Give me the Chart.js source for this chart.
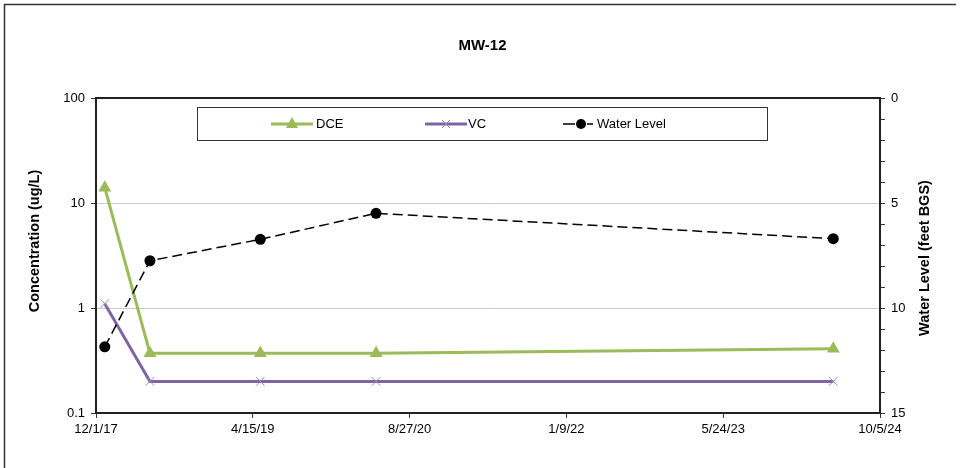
<!DOCTYPE html>
<html>
<head>
<meta charset="utf-8">
<script src="https://cdn.jsdelivr.net/npm/chart.js@4.4.0/dist/chart.umd.min.js"></script>
<style>
  html, body { margin: 0; padding: 0; background: #fff; }
  #wrap { width: 965px; height: 468px; }
</style>
</head>
<body>
<div id="wrap"><canvas id="myChart" width="965" height="468"></canvas></div>
<script>
const sampleDates = ['2017-12-29', '2018-05-22', '2019-05-09', '2020-05-12', '2024-05-09'];
const dce = [14, 0.37, 0.37, 0.37, 0.41];
const vc = [1.1, 0.2, 0.2, 0.2, 0.2];
const waterLevel = [11.85, 7.75, 6.73, 5.49, 6.70];

// axis settings
const startDate = '2017-12-01';
const dayCount = 2500;
const dayStep = 500;
const concTicks = [0.1, 1, 10, 100];

const DAY = 86400000;
const toDay = s => (Date.parse(s) - Date.parse(startDate)) / DAY;
const dayLabel = v => {
  const d = new Date(Date.parse(startDate) + v * DAY);
  return (d.getUTCMonth() + 1) + '/' + d.getUTCDate() + '/' + String(d.getUTCFullYear()).slice(2);
};
const pts = vals => sampleDates.map((s, i) => ({ x: toDay(s), y: vals[i] }));

const GREEN = '#9BBB59';
const PURPLE = '#8064A2';
const XMARK = '#9b84c2';
const FONT = 'Liberation Sans, Arial, sans-serif';

Chart.defaults.font.family = FONT;
Chart.defaults.color = '#000';

const frameAndLegend = {
  id: 'frameAndLegend',
  afterDraw(chart) {
    const c = chart.ctx;
    const a = chart.chartArea;
    c.save();
    // outer frame
    c.strokeStyle = '#333';
    c.lineWidth = 1.5;
    c.beginPath();
    c.moveTo(4.5, 470);
    c.lineTo(4.5, 4.5);
    c.lineTo(956, 4.5);
    c.stroke();
    // top edge of plot area
    c.strokeStyle = '#222';
    c.lineWidth = 2;
    c.beginPath();
    c.moveTo(a.left - 1, a.top);
    c.lineTo(a.right + 1, a.top);
    c.stroke();
    // axis titles, both read bottom to top
    c.fillStyle = '#000';
    c.font = 'bold 14.5px ' + FONT;
    c.textAlign = 'center';
    c.textBaseline = 'middle';
    c.save(); c.translate(35, 241); c.rotate(-Math.PI / 2); c.fillText('Concentration (ug/L)', 0, 0); c.restore();
    c.save(); c.translate(925, 258); c.rotate(-Math.PI / 2); c.fillText('Water Level (feet BGS)', 0, 0); c.restore();
    // legend box
    c.textAlign = 'left';
    c.fillStyle = '#fff';
    c.fillRect(197, 107, 570, 33);
    c.strokeStyle = '#333';
    c.lineWidth = 1;
    c.strokeRect(197.5, 107.5, 570, 33);
    const ly = 124;
    c.font = '13px ' + FONT;
    // DCE
    c.strokeStyle = GREEN; c.lineWidth = 3;
    c.beginPath(); c.moveTo(271, ly); c.lineTo(313, ly); c.stroke();
    c.fillStyle = GREEN;
    c.beginPath(); c.moveTo(292, ly - 7); c.lineTo(298, ly + 4); c.lineTo(286, ly + 4); c.closePath(); c.fill();
    c.fillStyle = '#000';
    c.fillText('DCE', 316, ly);
    // VC
    c.strokeStyle = PURPLE; c.lineWidth = 3;
    c.beginPath(); c.moveTo(425, ly); c.lineTo(467, ly); c.stroke();
    c.strokeStyle = XMARK; c.lineWidth = 1;
    c.beginPath(); c.moveTo(442, ly - 4); c.lineTo(450, ly + 4); c.moveTo(450, ly - 4); c.lineTo(442, ly + 4); c.stroke();
    c.fillText('VC', 468, ly);
    // Water level
    c.strokeStyle = '#000'; c.lineWidth = 1.5;
    c.beginPath(); c.moveTo(563, ly); c.lineTo(575, ly); c.moveTo(587, ly); c.lineTo(593, ly); c.stroke();
    c.beginPath(); c.arc(581, ly, 5, 0, Math.PI * 2); c.fill();
    c.fillText('Water Level', 597, ly);
    c.restore();
  }
};

const ctx = document.getElementById('myChart');
const myChart = new Chart(ctx, {
  type: 'line',
  data: {
    datasets: [
      {
        label: 'Water Level',
        data: pts(waterLevel),
        yAxisID: 'y1',
        borderColor: '#000',
        backgroundColor: '#000',
        borderWidth: 1.5,
        borderDash: [10, 5],
        pointStyle: 'circle',
        pointRadius: 5.5,
        pointBackgroundColor: '#000',
        pointBorderWidth: 0,
        order: 0
      },
      {
        label: 'DCE',
        data: pts(dce),
        yAxisID: 'y',
        borderColor: GREEN,
        backgroundColor: GREEN,
        borderWidth: 3,
        pointStyle: 'triangle',
        pointRadius: 7.5,
        pointBorderWidth: 0,
        order: 1
      },
      {
        label: 'VC',
        data: pts(vc),
        yAxisID: 'y',
        borderColor: PURPLE,
        backgroundColor: PURPLE,
        borderWidth: 3,
        pointStyle: 'crossRot',
        pointRadius: 6,
        pointBorderWidth: 1,
        pointBorderColor: XMARK,
        order: 2
      }
    ]
  },
  options: {
    responsive: false,
    animation: false,
    devicePixelRatio: 1,
    plugins: {
      legend: { display: false },
      tooltip: { enabled: false },
      title: {
        display: true,
        text: 'MW-12',
        color: '#000',
        font: { size: 15, weight: 'bold' },
        padding: { top: 37, bottom: 43 }
      }
    },
    scales: {
      x: {
        type: 'linear',
        min: 0,
        max: dayCount,
        afterFit: s => { s.height = 55; },
        ticks: { stepSize: dayStep, callback: v => dayLabel(v), font: { size: 13 }, color: '#000', padding: 4, maxRotation: 0 },
        grid: { drawOnChartArea: false, tickLength: 5, tickColor: '#333', tickWidth: 1 },
        border: { color: '#222', width: 2 }
      },
      y: {
        type: 'logarithmic',
        position: 'left',
        min: 0.1,
        max: 100,
        afterFit: s => { s.width = 96; },
        afterBuildTicks: axis => { axis.ticks = concTicks.map(v => ({ value: v })); },
        ticks: { callback: v => String(v), font: { size: 13 }, color: '#000', padding: 6 },
        grid: { color: '#c8c8c8', lineWidth: 1, tickLength: 5, tickColor: '#333' },
        border: { color: '#222', width: 2 }
      },
      y1: {
        type: 'linear',
        position: 'right',
        min: 0,
        max: 15,
        reverse: true,
        afterFit: s => { s.width = 85; },
        ticks: { stepSize: 1, autoSkip: false, callback: v => (v % 5 === 0 ? v : ''), font: { size: 13 }, color: '#000', padding: 6 },
        grid: { drawOnChartArea: false, tickLength: 5, tickColor: '#333' },
        border: { color: '#222', width: 2 }
      }
    }
  },
  plugins: [frameAndLegend]
});
</script>
</body>
</html>
